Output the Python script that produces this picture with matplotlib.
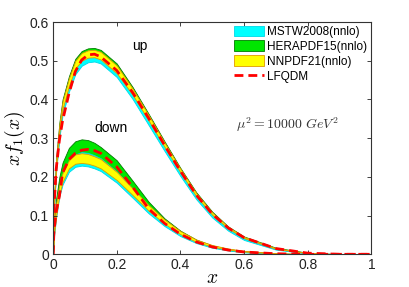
import numpy as np
import matplotlib.pyplot as plt

plt.rcParams['font.family'] = ['Liberation Sans', 'DejaVu Sans']
plt.rcParams['mathtext.fontset'] = 'cm'

# sample points in x
x = [0, 0.003, 0.01, 0.02, 0.03, 0.05, 0.07, 0.09, 0.11, 0.13, 0.15, 0.2,
     0.25, 0.3, 0.35, 0.4, 0.45, 0.5, 0.55, 0.6, 0.7, 0.8, 0.9, 1.0]

# ---- up quark ----
up_lfqdm = [0, .12, .22, .295, .345, .415, .472, .502, .515, .517, .51, .475,
            .418, .352, .282, .215, .153, .104, .068, .043, .015, .003, 0, 0]
up_hera_hi = [0, .14, .25, .34, .40, .46, .505, .525, .532, .533, .528, .493,
              .432, .363, .292, .223, .16, .11, .072, .046, .017, .004, .0005, 0]
up_hera_lo = [0, .12, .22, .31, .37, .43, .475, .497, .505, .506, .50, .466,
              .41, .345, .277, .21, .149, .10, .066, .041, .014, .003, 0, 0]
up_nnpdf_hi = [0, .135, .245, .335, .395, .455, .50, .52, .527, .528, .523, .488,
               .428, .36, .289, .221, .158, .108, .071, .045, .016, .0035, .0003, 0]
up_nnpdf_lo = [0, .12, .225, .315, .375, .435, .48, .50, .508, .509, .503, .468,
               .412, .346, .278, .212, .15, .102, .067, .042, .014, .003, 0, 0]
up_mstw_hi = [0, .13, .235, .32, .38, .44, .482, .502, .51, .511, .505, .47,
              .414, .348, .279, .212, .15, .102, .066, .041, .014, .003, 0, 0]
up_mstw_lo = [0, .115, .215, .30, .36, .42, .465, .487, .496, .498, .493, .458,
              .401, .334, .267, .202, .142, .095, .061, .037, .012, .002, 0, 0]

# ---- down quark ----
dn_lfqdm = [0, .06, .11, .15, .21, .245, .261, .269, .271, .268, .261, .226,
            .174, .118, .08, .052, .032, .019, .011, .006, .0015, 0, 0, 0]
dn_hera_hi = [0, .08, .145, .20, .237, .275, .292, .297, .295, .288, .277, .243,
              .19, .136, .093, .061, .038, .023, .014, .008, .002, .0003, 0, 0]
dn_hera_lo = [0, .06, .12, .17, .20, .237, .252, .257, .257, .253, .246, .214,
              .168, .12, .081, .052, .032, .019, .011, .006, .0015, 0, 0, 0]
dn_nnpdf_hi = [0, .07, .13, .18, .21, .243, .258, .261, .259, .253, .246, .213,
               .17, .127, .09, .06, .038, .024, .015, .009, .003, .0008, .0001, 0]
dn_nnpdf_lo = [0, .05, .10, .155, .187, .222, .234, .236, .234, .229, .222, .192,
               .153, .113, .079, .052, .032, .02, .012, .007, .002, .0005, 0, 0]
dn_mstw_hi = [0, .06, .12, .175, .205, .24, .258, .264, .262, .256, .248, .214,
              .168, .122, .084, .055, .034, .02, .012, .007, .002, .0004, 0, 0]
dn_mstw_lo = [0, .045, .095, .15, .18, .213, .226, .229, .227, .222, .215, .185,
              .146, .106, .073, .047, .029, .017, .010, .005, .0012, .0002, 0, 0]

fig = plt.figure(figsize=(4.09, 2.87), dpi=100)
ax = fig.add_axes([0.1296, 0.1139, 0.7787, 0.8094])

cyan = dict(facecolor='#00ffff', edgecolor='#00d8e8', linewidth=0.6)
green = dict(facecolor='#00e600', edgecolor='#007a00', linewidth=0.6)
yellow = dict(facecolor='#ffff00', edgecolor='#e09a00', linewidth=0.6)

# draw order: HERA, then MSTW, then NNPDF on top
for hi, lo in [(up_hera_hi, up_hera_lo), (dn_hera_hi, dn_hera_lo)]:
    h_hera = ax.fill_between(x, lo, hi, **green)
for hi, lo in [(up_mstw_hi, up_mstw_lo), (dn_mstw_hi, dn_mstw_lo)]:
    h_mstw = ax.fill_between(x, lo, hi, **cyan)
for hi, lo in [(up_nnpdf_hi, up_nnpdf_lo), (dn_nnpdf_hi, dn_nnpdf_lo)]:
    h_nn = ax.fill_between(x, lo, hi, **yellow)

dash = (0, (3.2, 1.8))
h_lf, = ax.plot(x, up_lfqdm, color='red', lw=2, ls=dash)
ax.plot(x, dn_lfqdm, color='red', lw=2, ls=dash)

ax.legend([h_mstw, h_hera, h_nn, h_lf],
          ['MSTW2008(nnlo)', 'HERAPDF15(nnlo)', 'NNPDF21(nnlo)', 'LFQDM'],
          loc='upper right', frameon=False, fontsize=8.5, handlelength=2.6,
          handleheight=1.05, handletextpad=0.25, labelspacing=0.2,
          borderaxespad=0.0, borderpad=0.2, bbox_to_anchor=(0.995, 0.995))

ax.text(0.271, 0.537, 'up', fontsize=10, ha='center', va='center')
ax.text(0.182, 0.327, 'down', fontsize=10, ha='center', va='center')
ax.text(0.575, 0.334, r'$\mu^2 = 10000\ GeV^2$', fontsize=10, ha='left', va='center',
        color='#333333')

ax.set_xlim(0, 1)
ax.set_ylim(0, 0.6)
ax.set_xticks([0, 0.2, 0.4, 0.6, 0.8, 1])
ax.set_xticklabels(['0', '0.2', '0.4', '0.6', '0.8', '1'])
ax.set_yticks([0, 0.1, 0.2, 0.3, 0.4, 0.5, 0.6])
ax.set_yticklabels(['0', '0.1', '0.2', '0.3', '0.4', '0.5', '0.6'])
ax.tick_params(direction='in', top=True, right=True, length=3, width=0.6,
               labelsize=10, pad=3, colors='#222222')
for s in ax.spines.values():
    s.set_linewidth(0.8)
    s.set_color('#333333')

ax.set_xlabel(r'$x$', fontsize=14, labelpad=-2)
ax.set_ylabel(r'$xf_1(x)$', fontsize=14, labelpad=2)

fig.savefig('out.png', dpi=100)
